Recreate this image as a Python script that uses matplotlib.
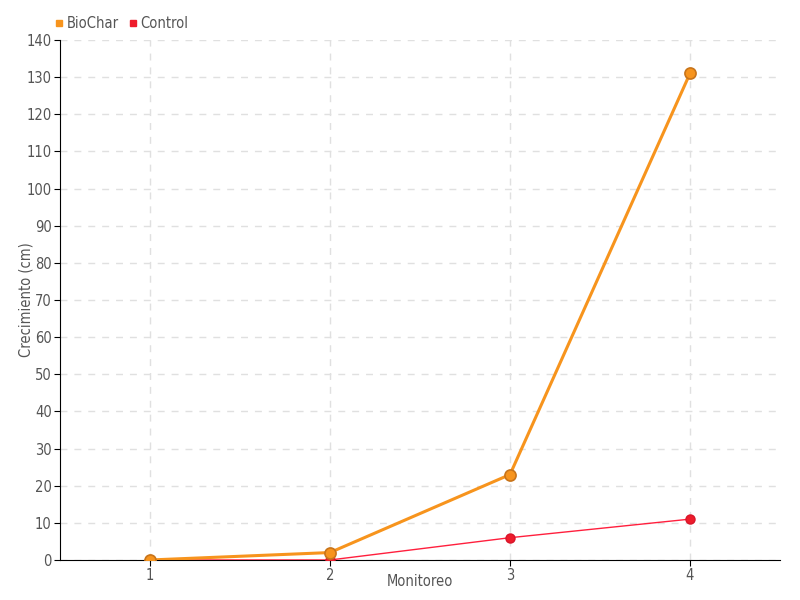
import matplotlib
matplotlib.use("Agg")
import matplotlib.pyplot as plt
from matplotlib.lines import Line2D

# data
monitoreo = [1, 2, 3, 4]
biochar = [0, 2, 23, 131]
control = [0, 0, 6, 11]

plt.rcParams['font.family'] = ['DejaVu Sans']
plt.rcParams['font.stretch'] = 'condensed'
plt.rcParams['font.weight'] = 'light'

fig = plt.figure(figsize=(8, 6), dpi=100, facecolor='white')
ax = fig.add_axes([0.075, 0.0667, 0.9, 0.8666])

ax.plot(monitoreo, control, color='#ff1f3d', lw=1, marker='o', ms=6.5,
        mfc='#ee1c2b', mec='#d8152a', zorder=3)
ax.plot(monitoreo, biochar, color='#f7941d', lw=2.2, marker='o', ms=8,
        mfc='#f7941d', mec='#c8741a', mew=1.2, zorder=4)

ax.set_xlim(0.5, 4.5)
ax.set_ylim(0, 140)
ax.set_xticks(monitoreo)
ax.set_yticks(range(0, 141, 10))

for s in ['top', 'right']:
    ax.spines[s].set_visible(False)
ax.spines['left'].set_color('black')
ax.spines['bottom'].set_color('black')
ax.grid(True, ls=(0, (5, 5)), color='#e0e0e0', lw=1)
ax.set_axisbelow(True)
ax.tick_params(colors='black', labelcolor='#555555', labelsize=10.5, length=4, pad=2)

ax.set_xlabel('Monitoreo', color='#555555', fontsize=10.5, labelpad=-7)
ax.set_ylabel('Crecimiento (cm)', color='#555555', fontsize=10.5, labelpad=-5)

handles = [Line2D([], [], ls='none', marker='s', ms=5, color='#f7941d'),
           Line2D([], [], ls='none', marker='s', ms=5, color='#ee1c2b')]
fig.legend(handles, ['BioChar', 'Control'], loc='upper left',
           bbox_to_anchor=(0.05, 0.995), ncol=2, frameon=False,
           handletextpad=0.1, columnspacing=0.6, handlelength=0.8,
           labelcolor='#555555', fontsize=10.5)

fig.savefig('out.png', dpi=100)
